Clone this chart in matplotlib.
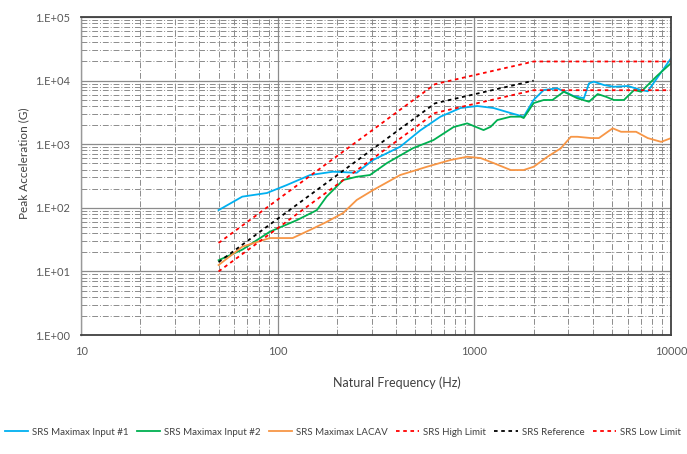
import numpy as np
import matplotlib
matplotlib.use('Agg')
import matplotlib.pyplot as plt
from matplotlib.ticker import LogLocator, FuncFormatter, NullFormatter

plt.rcParams['font.family'] = ['Lato', 'DejaVu Sans']

# measured shock response spectra (natural frequency in Hz, peak accel in G)
freq_in1 = [50, 66, 88, 111, 146, 191, 252, 305, 419, 530, 671, 849, 1033,
            1250, 1528, 1779, 2000, 2250, 2640, 3200, 3600, 3820, 4050, 4550,
            5110, 6030, 7030, 7600, 8890, 10000]
accel_in1 = [92, 150, 171, 228, 328, 370, 356, 565, 914, 1650, 2710, 3710,
             3990, 3710, 3090, 2710, 5000, 7120, 7570, 5700, 5300, 9070, 9620,
             8530, 8020, 8230, 7120, 6800, 13500, 22600]

freq_in2 = [50, 66, 91, 125, 158, 177, 215, 252, 294, 359, 488, 618, 782, 918,
            1112, 1208, 1306, 1528, 1718, 1779, 2000, 2250, 2490, 2845, 3340,
            3820, 4230, 4660, 5110, 5750, 6480, 7030, 8500, 10000]
accel_in2 = [15, 22, 42, 64, 92, 150, 274, 308, 328, 506, 871, 1160, 1860,
             2130, 1670, 1880, 2400, 2710, 2710, 2580, 4440, 4960, 4960, 6690,
             5270, 4660, 6150, 5580, 4960, 4960, 7120, 6690, 12000, 18900]

freq_lacav = [50, 66, 91, 119, 146, 177, 215, 252, 305, 419, 574, 755, 918,
              1074, 1250, 1528, 1779, 2000, 2350, 2746, 3090, 3340, 3910,
              4290, 5040, 5560, 6630, 7600, 8890, 10000]
accel_lacav = [12.6, 24.5, 33.5, 33.5, 45, 60, 83, 133, 190, 328, 443, 565,
               636, 606, 506, 393, 393, 443, 636, 862, 1310, 1310, 1250, 1250,
               1780, 1570, 1570, 1250, 1090, 1250]

# specification breakpoints
freq_limits = [50, 630, 2000, 10000]
accel_high = [28, 8800, 20000, 20000]
accel_low = [10, 3100, 7070, 7070]
freq_ref = [50, 630, 2000]
accel_ref = [14, 4400, 10000]

fig = plt.figure(figsize=(6.87, 4.54), dpi=100)
ax = fig.add_axes([0.118, 0.262, 0.859, 0.7005])

ax.plot(freq_in1, accel_in1, color='#00B0F0', lw=1.3,
        label='SRS Maximax Input #1')
ax.plot(freq_in2, accel_in2, color='#00B050', lw=1.3,
        label='SRS Maximax Input #2')
ax.plot(freq_lacav, accel_lacav, color='#F79646', lw=1.3,
        label='SRS Maximax LACAV')
ax.plot(freq_limits, accel_high, color='#FF0000', lw=1.3, ls=(0, (2, 2)),
        label='SRS High Limit')
ax.plot(freq_ref, accel_ref, color='#000000', lw=1.3, ls=(0, (2, 2)),
        label='SRS Reference')
ax.plot(freq_limits, accel_low, color='#FF0000', lw=1.3, ls=(0, (2, 2)),
        label='SRS Low Limit')

ax.set_xscale('log')
ax.set_yscale('log')
ax.set_xlim(10, 10000)
ax.set_ylim(1, 1e5)

for axis in (ax.xaxis, ax.yaxis):
    axis.set_major_locator(LogLocator(base=10, numticks=10))
    axis.set_minor_locator(LogLocator(base=10, subs=np.arange(2, 10),
                                      numticks=20))
    axis.set_minor_formatter(NullFormatter())

ax.xaxis.set_major_formatter(FuncFormatter(lambda v, p: f'{v:.0f}'))
ax.yaxis.set_major_formatter(
    FuncFormatter(lambda v, p: f'1.E+{int(round(np.log10(v))):02d}'))

ax.grid(which='major', color='#8c8c8c', lw=0.9, ls='-')
ax.grid(which='minor', color='#8c8c8c', lw=0.7, ls=(0, (6, 2, 1, 2)))
ax.set_axisbelow(True)

ax.tick_params(which='major', length=0, labelsize=8, labelcolor='#595959',
               pad=8)
ax.tick_params(axis='x', which='minor', direction='in', length=2,
               color='#8c8c8c')
ax.tick_params(axis='y', which='minor', length=0)

for side in ('top', 'right', 'bottom'):
    ax.spines[side].set_color('#404040')
    ax.spines[side].set_linewidth(1.3)
ax.spines['left'].set_color('#999999')
ax.spines['left'].set_linewidth(1.0)

fig.text(0.034, 0.64, 'Peak Acceleration (G)', rotation=90, ha='center',
         va='center', fontsize=8.5, color='#404040')
fig.text(0.577, 0.158, 'Natural Frequency (Hz)', ha='center', va='center',
         fontsize=9, color='#404040')

fig.legend(loc='center left', bbox_to_anchor=(-0.006, 0.048), ncol=6,
           frameon=False, fontsize=7, handlelength=2.4, handletextpad=0.4,
           columnspacing=0.85, labelcolor='#404040')

fig.savefig('out.png', dpi=100)
